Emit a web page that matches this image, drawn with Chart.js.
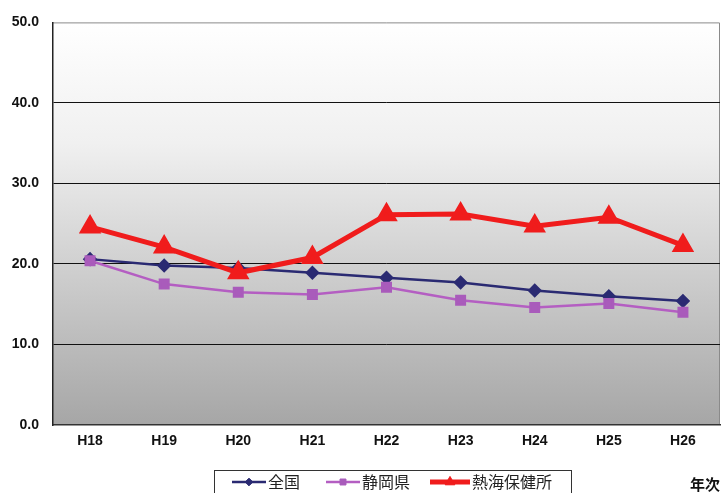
<!DOCTYPE html>
<html>
<head>
<meta charset="utf-8">
<script src="https://cdn.jsdelivr.net/npm/chart.js@4"></script>
<style>
  html, body { margin: 0; padding: 0; background: #fff; }
  #wrap { width: 725px; height: 493px; position: relative; }
</style>
</head>
<body>
<div id="wrap"><canvas id="chart" width="725" height="493"></canvas></div>
<script>
// categories and series
const years = ['H18', 'H19', 'H20', 'H21', 'H22', 'H23', 'H24', 'H25', 'H26'];
const zenkoku = [20.6, 19.8, 19.5, 18.9, 18.3, 17.7, 16.7, 16.0, 15.4];
const shizuoka = [20.4, 17.5, 16.5, 16.2, 17.1, 15.5, 14.6, 15.1, 14.0];
const atami = [24.6, 22.1, 18.9, 20.8, 26.1, 26.2, 24.7, 25.8, 22.3];
const seriesNames = ['全国', '静岡県', '熱海保健所'];
const yTicks = [0, 10, 20, 30, 40, 50];

const labelFont = "'Liberation Sans Narrow', 'Liberation Sans', Arial, sans-serif";
const jpFont = "'Noto Sans CJK JP', sans-serif";

// gradient behind the plot area
const plotBackground = {
    id: 'plotBackground',
    beforeDraw(chart) {
        const { ctx, chartArea: a } = chart;
        const g = ctx.createLinearGradient(0, a.top, 0, a.bottom);
        g.addColorStop(0, '#ffffff');
        g.addColorStop(0.3, '#f0f0f0');
        g.addColorStop(1, '#a6a6a6');
        ctx.save();
        ctx.fillStyle = g;
        ctx.fillRect(a.left, a.top, a.right - a.left, a.bottom - a.top);
        ctx.strokeStyle = '#8a8a8a';
        ctx.lineWidth = 1;
        ctx.beginPath();
        ctx.moveTo(a.left, a.top + 0.5);
        ctx.lineTo(a.right - 0.5, a.top + 0.5);
        ctx.lineTo(a.right - 0.5, a.bottom);
        ctx.stroke();
        ctx.restore();
    }
};

// legend box with line + marker samples, and the axis caption
const lineLegend = {
    id: 'lineLegend',
    afterDraw(chart) {
        const ctx = chart.ctx;
        ctx.save();
        ctx.strokeStyle = '#333';
        ctx.lineWidth = 1;
        ctx.fillStyle = '#fff';
        ctx.fillRect(214.5, 470.5, 357, 30);
        ctx.strokeRect(214.5, 470.5, 357, 30);

        const items = [
            { x: 232, w: 34 },
            { x: 326, w: 34 },
            { x: 430, w: 40 }
        ];
        chart.data.datasets.forEach((ds, i) => {
            const it = items[i];
            const y = 482;
            ctx.strokeStyle = ds.borderColor;
            ctx.lineWidth = ds.borderWidth;
            ctx.beginPath();
            ctx.moveTo(it.x, y);
            ctx.lineTo(it.x + it.w, y);
            ctx.stroke();
            ctx.fillStyle = ds.pointBackgroundColor;
            ctx.strokeStyle = ds.pointBackgroundColor;
            ctx.lineWidth = 1;
            Chart.helpers.drawPoint(ctx, {
                pointStyle: ds.pointStyle,
                radius: ds.pointRadius * 0.7,
                rotation: 0,
                borderWidth: 1
            }, it.x + it.w / 2, y);
            ctx.fillStyle = '#222';
            ctx.font = '16px ' + jpFont;
            ctx.textBaseline = 'middle';
            ctx.textAlign = 'left';
            ctx.fillText(ds.label, it.x + it.w + 2, y);
        });

        ctx.fillStyle = '#111';
        ctx.font = 'bold 15px ' + jpFont;
        ctx.textAlign = 'left';
        ctx.fillText('年次', 690, 484);
        ctx.restore();
    }
};

const ctx = document.getElementById('chart');
new Chart(ctx, {
    type: 'line',
    data: {
        labels: years,
        datasets: [
            {
                label: seriesNames[0],
                data: zenkoku,
                borderColor: '#2a2a72',
                backgroundColor: '#2a2a72',
                pointBackgroundColor: '#2a2a72',
                pointBorderColor: '#2a2a72',
                borderWidth: 2.5,
                pointStyle: 'rectRot',
                pointRadius: 5.5,
                order: 3
            },
            {
                label: seriesNames[1],
                data: shizuoka,
                borderColor: '#b45ec2',
                backgroundColor: '#a95bbb',
                pointBackgroundColor: '#a95bbb',
                pointBorderColor: '#a95bbb',
                borderWidth: 2.5,
                pointStyle: 'rect',
                pointRadius: 6,
                order: 2
            },
            {
                label: seriesNames[2],
                data: atami,
                borderColor: '#f01c1c',
                backgroundColor: '#f01c1c',
                pointBackgroundColor: '#f01c1c',
                pointBorderColor: '#f01c1c',
                borderWidth: 5,
                pointStyle: 'triangle',
                pointRadius: 8,
                order: 1
            }
        ]
    },
    options: {
        responsive: false,
        animation: false,
        layout: { autoPadding: false, padding: { top: 20, right: 5, left: 0, bottom: 0 } },
        plugins: {
            legend: { display: false },
            tooltip: { enabled: false }
        },
        scales: {
            x: {
                offset: true,
                grid: { display: false, drawTicks: false },
                border: { color: '#333', width: 1.5 },
                ticks: {
                    color: '#111',
                    padding: 8,
                    font: { family: labelFont, size: 14, weight: 'bold' }
                },
                afterFit(s) {
                    s.height = 68;
                    s.paddingLeft = 0;
                    s.paddingRight = 0;
                }
            },
            y: {
                min: 0,
                max: 50,
                afterBuildTicks(s) { s.ticks = yTicks.map(v => ({ value: v })); },
                grid: {
                    color: (c) => (c.tick && (c.tick.value === 0 || c.tick.value === 50)) ? 'rgba(0,0,0,0)' : '#111',
                    lineWidth: 1,
                    drawTicks: false
                },
                border: { color: '#222', width: 1.5 },
                ticks: {
                    color: '#111',
                    padding: 14,
                    font: { family: labelFont, size: 14, weight: 'bold' },
                    callback: (v) => Number(v).toFixed(1)
                },
                afterFit(s) { s.width = 53; }
            }
        }
    },
    plugins: [plotBackground, lineLegend]
});
</script>
</body>
</html>
